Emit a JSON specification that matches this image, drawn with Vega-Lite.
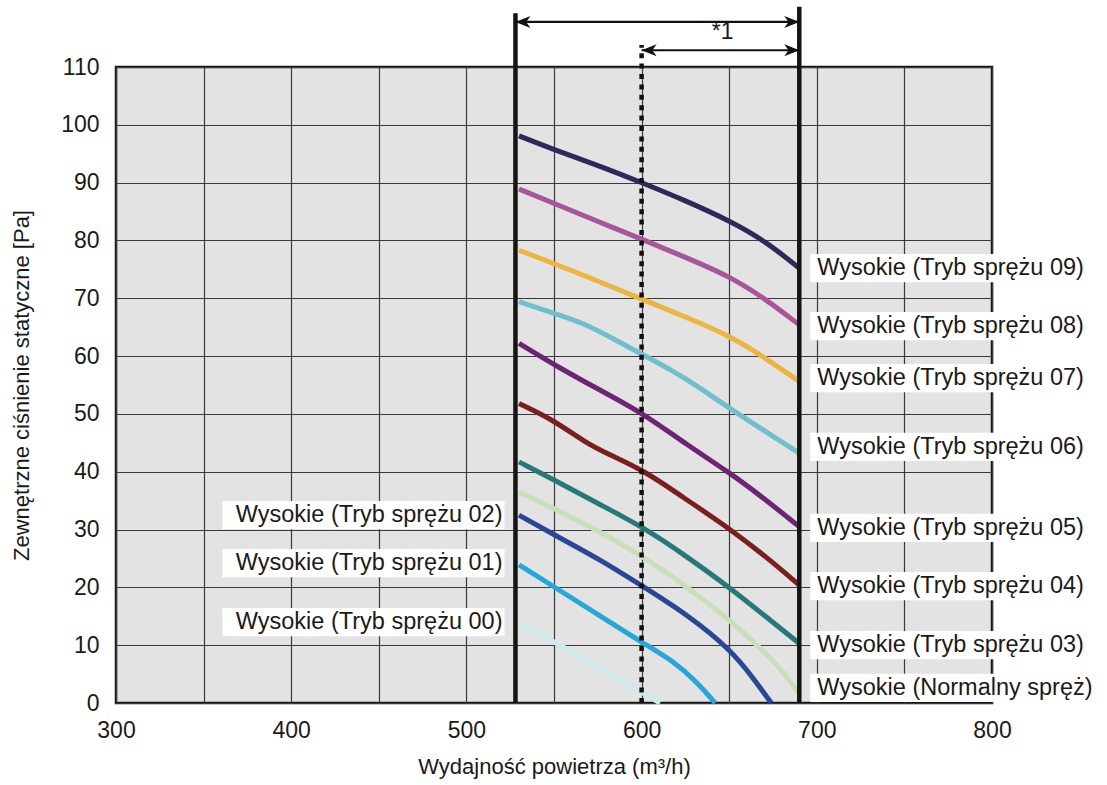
{
  "$schema": "https://vega.github.io/schema/vega-lite/v6.json",
  "width": 876,
  "height": 636,
  "autosize": {"type": "none"},
  "padding": {"left": 116, "top": 67, "right": 115, "bottom": 82},
  "background": "white",
  "config": {
    "font": "Liberation Sans",
    "view": {"fill": "#e3e3e3", "stroke": "#151515", "strokeWidth": 2.5},
    "axis": {
      "domain": false,
      "ticks": false,
      "grid": true,
      "gridColor": "#3a3a3a",
      "gridWidth": 1.2,
      "gridOpacity": 1,
      "labelFont": "Liberation Sans",
      "labelFontSize": 23,
      "labelColor": "#1a1a1a",
      "titleFont": "Liberation Sans",
      "titleFontSize": 22,
      "titleFontWeight": "normal",
      "titleColor": "#1a1a1a"
    }
  },
  "datasets": {
    "curves": [
      {"s": "09", "x": 530, "y": 98.1}, {"s": "09", "x": 550, "y": 95.7}, {"s": "09", "x": 576, "y": 92.9}, {"s": "09", "x": 601, "y": 89.9}, {"s": "09", "x": 625, "y": 86.9}, {"s": "09", "x": 651, "y": 83.3}, {"s": "09", "x": 671, "y": 79.8}, {"s": "09", "x": 690, "y": 75.2},
      {"s": "08", "x": 530, "y": 88.9}, {"s": "08", "x": 550, "y": 86.4}, {"s": "08", "x": 575, "y": 83.3}, {"s": "08", "x": 601, "y": 80.1}, {"s": "08", "x": 625, "y": 77.1}, {"s": "08", "x": 651, "y": 73.7}, {"s": "08", "x": 671, "y": 69.8}, {"s": "08", "x": 690, "y": 65.4},
      {"s": "07", "x": 530, "y": 78.3}, {"s": "07", "x": 550, "y": 76.0}, {"s": "07", "x": 575, "y": 73.0}, {"s": "07", "x": 601, "y": 69.7}, {"s": "07", "x": 625, "y": 66.8}, {"s": "07", "x": 651, "y": 63.4}, {"s": "07", "x": 671, "y": 59.6}, {"s": "07", "x": 690, "y": 55.6},
      {"s": "06", "x": 530, "y": 69.4}, {"s": "06", "x": 550, "y": 67.4}, {"s": "06", "x": 568, "y": 65.6}, {"s": "06", "x": 585, "y": 62.8}, {"s": "06", "x": 601, "y": 60.2}, {"s": "06", "x": 617, "y": 57.6}, {"s": "06", "x": 633, "y": 54.6}, {"s": "06", "x": 651, "y": 50.8}, {"s": "06", "x": 671, "y": 46.9}, {"s": "06", "x": 690, "y": 43.2},
      {"s": "05", "x": 530, "y": 62.2}, {"s": "05", "x": 550, "y": 58.5}, {"s": "05", "x": 575, "y": 54.3}, {"s": "05", "x": 601, "y": 50.1}, {"s": "05", "x": 626, "y": 44.6}, {"s": "05", "x": 651, "y": 39.7}, {"s": "05", "x": 671, "y": 35.1}, {"s": "05", "x": 690, "y": 30.5},
      {"s": "04", "x": 530, "y": 51.8}, {"s": "04", "x": 550, "y": 48.9}, {"s": "04", "x": 568, "y": 45.0}, {"s": "04", "x": 582, "y": 42.9}, {"s": "04", "x": 601, "y": 40.3}, {"s": "04", "x": 626, "y": 35.1}, {"s": "04", "x": 651, "y": 30.0}, {"s": "04", "x": 671, "y": 25.3}, {"s": "04", "x": 690, "y": 20.4},
      {"s": "03", "x": 530, "y": 41.7}, {"s": "03", "x": 550, "y": 38.6}, {"s": "03", "x": 575, "y": 34.5}, {"s": "03", "x": 601, "y": 30.4}, {"s": "03", "x": 626, "y": 25.3}, {"s": "03", "x": 651, "y": 19.8}, {"s": "03", "x": 671, "y": 14.9}, {"s": "03", "x": 690, "y": 10.3},
      {"s": "N", "x": 530, "y": 36.5}, {"s": "N", "x": 550, "y": 33.7}, {"s": "N", "x": 575, "y": 29.8}, {"s": "N", "x": 601, "y": 25.3}, {"s": "N", "x": 617, "y": 22.0}, {"s": "N", "x": 633, "y": 18.4}, {"s": "N", "x": 651, "y": 14.2}, {"s": "N", "x": 671, "y": 8.6}, {"s": "N", "x": 682, "y": 5.0}, {"s": "N", "x": 690, "y": 1.5},
      {"s": "02", "x": 530, "y": 32.5}, {"s": "02", "x": 550, "y": 29.1}, {"s": "02", "x": 577, "y": 24.7}, {"s": "02", "x": 601, "y": 20.1}, {"s": "02", "x": 626, "y": 15.3}, {"s": "02", "x": 651, "y": 9.2}, {"s": "02", "x": 664, "y": 4.2}, {"s": "02", "x": 674, "y": 0},
      {"s": "01", "x": 530, "y": 23.9}, {"s": "01", "x": 550, "y": 20.1}, {"s": "01", "x": 575, "y": 15.3}, {"s": "01", "x": 601, "y": 10.3}, {"s": "01", "x": 618, "y": 7.3}, {"s": "01", "x": 632, "y": 3.5}, {"s": "01", "x": 642, "y": 0},
      {"s": "00", "x": 530, "y": 13.8}, {"s": "00", "x": 550, "y": 10.6}, {"s": "00", "x": 575, "y": 6.3}, {"s": "00", "x": 601, "y": 1.7}, {"s": "00", "x": 610.5, "y": 0}
    ],
    "refs": [
      {"kind": "solid", "x": 528, "y": 0, "y2": 119.3},
      {"kind": "solid", "x": 690, "y": 0, "y2": 120.4},
      {"kind": "dotted", "x": 600, "y": 0, "y2": 113.8}
    ],
    "arrows": [
      {"x": 528, "x2": 690, "y": 117.8},
      {"x": 600, "x2": 690, "y": 112.9}
    ],
    "heads": [
      {"x": 528, "y": 117.8, "dir": "left"},
      {"x": 690, "y": 117.8, "dir": "right"},
      {"x": 600, "y": 112.9, "dir": "left"},
      {"x": 690, "y": 112.9, "dir": "right"}
    ],
    "notes": [
      {"x": 640, "y": 116, "text": "*1"}
    ],
    "labels": [
      {"label": "Wysokie (Tryb sprężu 09)", "x": 690, "y": 75.2, "side": "right"},
      {"label": "Wysokie (Tryb sprężu 08)", "x": 690, "y": 65.2, "side": "right"},
      {"label": "Wysokie (Tryb sprężu 07)", "x": 690, "y": 56.2, "side": "right"},
      {"label": "Wysokie (Tryb sprężu 06)", "x": 690, "y": 44.3, "side": "right"},
      {"label": "Wysokie (Tryb sprężu 05)", "x": 690, "y": 30.3, "side": "right"},
      {"label": "Wysokie (Tryb sprężu 04)", "x": 690, "y": 20.2, "side": "right"},
      {"label": "Wysokie (Tryb sprężu 03)", "x": 690, "y": 10.0, "side": "right"},
      {"label": "Wysokie (Normalny spręż)", "x": 690, "y": 2.6, "side": "right"},
      {"label": "Wysokie (Tryb sprężu 02)", "x": 528, "y": 32.5, "side": "left"},
      {"label": "Wysokie (Tryb sprężu 01)", "x": 528, "y": 24.2, "side": "left"},
      {"label": "Wysokie (Tryb sprężu 00)", "x": 528, "y": 14.0, "side": "left"}
    ]
  },
  "encoding": {
    "x": {
      "field": "x",
      "type": "quantitative",
      "scale": {"domain": [300, 800], "nice": false, "zero": false},
      "axis": {
        "title": "Wydajność powietrza (m³/h)",
        "values": [300, 350, 400, 450, 500, 550, 600, 650, 700, 750, 800],
        "labelExpr": "datum.value % 100 === 0 ? datum.label : ''",
        "labelPadding": 16,
        "titlePadding": 14,
        "labelFlush": false,
        "labelOverlap": false
      }
    },
    "y": {
      "field": "y",
      "type": "quantitative",
      "scale": {"domain": [0, 110], "nice": false, "zero": true},
      "axis": {
        "title": "Zewnętrzne ciśnienie statyczne [Pa]",
        "values": [0, 10, 20, 30, 40, 50, 60, 70, 80, 90, 100, 110],
        "labelPadding": 17,
        "titlePadding": 27,
        "labelOverlap": false
      }
    }
  },
  "layer": [
    {
      "data": {"name": "curves"},
      "mark": {"type": "line", "interpolate": "basis", "strokeWidth": 5, "strokeCap": "butt"},
      "encoding": {
        "detail": {"field": "s"},
        "color": {
          "field": "s",
          "type": "nominal",
          "legend": null,
          "scale": {
            "domain": ["09", "08", "07", "06", "05", "04", "03", "N", "02", "01", "00"],
            "range": ["#2c2a58", "#a8559a", "#edb440", "#70c0cb", "#6e2475", "#7b1e1e", "#267978", "#c9dfb8", "#2b4597", "#27a7d9", "#cdeaec"]
          }
        }
      }
    },
    {
      "data": {"name": "refs"},
      "transform": [{"filter": "datum.kind === 'solid'"}],
      "mark": {"type": "rule", "color": "#141410", "strokeWidth": 4.5},
      "encoding": {"y2": {"field": "y2"}}
    },
    {
      "data": {"name": "refs"},
      "transform": [{"filter": "datum.kind === 'dotted'"}],
      "mark": {"type": "rule", "color": "#111111", "strokeWidth": 4.5, "strokeDash": [5, 5.4]},
      "encoding": {"y2": {"field": "y2"}}
    },
    {
      "data": {"name": "arrows"},
      "mark": {"type": "rule", "color": "#111111", "strokeWidth": 2.2},
      "encoding": {"x2": {"field": "x2"}}
    },
    {
      "data": {"name": "heads"},
      "mark": {"type": "point", "filled": true, "color": "#111111", "opacity": 1, "size": 900, "strokeWidth": 0},
      "encoding": {
        "shape": {
          "field": "dir",
          "type": "nominal",
          "legend": null,
          "scale": {
            "domain": ["left", "right"],
            "range": ["M0,0L1,-0.4L0.72,0L1,0.4Z", "M0,0L-1,-0.4L-0.72,0L-1,0.4Z"]
          }
        }
      }
    },
    {
      "data": {"name": "notes"},
      "mark": {"type": "text", "fontSize": 23, "color": "#1a1a1a", "align": "left", "baseline": "middle", "font": "Liberation Sans"},
      "encoding": {"text": {"field": "text"}}
    },
    {
      "data": {"name": "labels"},
      "transform": [{"filter": "datum.side === 'right'"}],
      "mark": {"type": "point", "filled": true, "color": "white", "opacity": 1, "strokeWidth": 0, "size": 79524, "xOffset": 152, "shape": "M-1,-0.1L1,-0.1L1,0.1L-1,0.1Z"}
    },
    {
      "data": {"name": "labels"},
      "transform": [{"filter": "datum.side === 'left'"}],
      "mark": {"type": "point", "filled": true, "color": "white", "opacity": 1, "strokeWidth": 0, "size": 79524, "xOffset": -152, "shape": "M-1,-0.1L1,-0.1L1,0.1L-1,0.1Z"}
    },
    {
      "data": {"name": "labels"},
      "transform": [{"filter": "datum.side === 'right'"}],
      "mark": {"type": "text", "fontSize": 23.5, "color": "#1a1a1a", "align": "left", "baseline": "middle", "dx": 18, "font": "Liberation Sans"},
      "encoding": {"text": {"field": "label"}}
    },
    {
      "data": {"name": "labels"},
      "transform": [{"filter": "datum.side === 'left'"}],
      "mark": {"type": "text", "fontSize": 23.5, "color": "#1a1a1a", "align": "right", "baseline": "middle", "dx": -13, "font": "Liberation Sans"},
      "encoding": {"text": {"field": "label"}}
    }
  ]
}
